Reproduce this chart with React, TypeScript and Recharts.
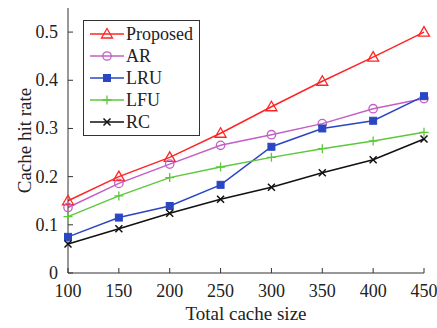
import React from "react";
import { LineChart, Line, XAxis, YAxis } from "recharts";

const cacheSizes = [100, 150, 200, 250, 300, 350, 400, 450];
const proposed = [0.15, 0.2, 0.24, 0.29, 0.345, 0.398, 0.448, 0.5];
const ar = [0.136, 0.186, 0.226, 0.265, 0.287, 0.31, 0.341, 0.362];
const lru = [0.075, 0.115, 0.139, 0.183, 0.262, 0.3, 0.316, 0.367];
const lfu = [0.117, 0.16, 0.198, 0.22, 0.24, 0.258, 0.274, 0.292];
const rc = [0.06, 0.092, 0.124, 0.153, 0.178, 0.208, 0.235, 0.278];
const yTicks = [0, 0.1, 0.2, 0.3, 0.4, 0.5];

const data = cacheSizes.map((s, i) => ({
  size: s,
  Proposed: proposed[i],
  AR: ar[i],
  LRU: lru[i],
  LFU: lfu[i],
  RC: rc[i],
}));

const FONT = "'Liberation Serif', 'Times New Roman', serif";
const AXIS = "#333";

const series = [
  { key: "Proposed", color: "#ff2525", shape: "triangle" },
  { key: "AR", color: "#c45fc4", shape: "circle" },
  { key: "LRU", color: "#2b46c2", shape: "square" },
  { key: "LFU", color: "#5cc83c", shape: "plus" },
  { key: "RC", color: "#111111", shape: "cross" },
];

function Marker({ cx, cy, shape, color }: any) {
  if (cx == null || cy == null) return null;
  switch (shape) {
    case "triangle":
      return <path d={`M${cx},${cy - 5.5} L${cx + 5.5},${cy + 4} L${cx - 5.5},${cy + 4} Z`} fill="none" stroke={color} strokeWidth={1.3} />;
    case "circle":
      return <circle cx={cx} cy={cy} r={4.2} fill="none" stroke={color} strokeWidth={1.3} />;
    case "square":
      return <rect x={cx - 3.5} y={cy - 3.5} width={7} height={7} fill={color} stroke={color} />;
    case "plus":
      return <path d={`M${cx - 4.5},${cy} H${cx + 4.5} M${cx},${cy - 4.5} V${cy + 4.5}`} stroke={color} strokeWidth={1.3} />;
    default:
      return <path d={`M${cx - 3.5},${cy - 3.5} L${cx + 3.5},${cy + 3.5} M${cx + 3.5},${cy - 3.5} L${cx - 3.5},${cy + 3.5}`} stroke={color} strokeWidth={1.5} />;
  }
}

const BottomTick = ({ x, y, payload }: any) => (
  <g>
    <line x1={x} x2={x} y1={y - 6} y2={y - 11} stroke={AXIS} />
    <text x={x} y={y + 18} textAnchor="middle" fontFamily={FONT} fontSize={18} fill="#222">{payload.value}</text>
  </g>
);
const LeftTick = ({ x, y, payload }: any) => (
  <g>
    <line x1={x + 6} x2={x + 11} y1={y} y2={y} stroke={AXIS} />
    <text x={x - 4} y={y + 6} textAnchor="end" fontFamily={FONT} fontSize={18} fill="#222">{payload.value}</text>
  </g>
);
const TopTick = ({ x, y }: any) => <line x1={x} x2={x} y1={y} y2={y + 5} stroke={AXIS} />;
const RightTick = ({ x, y }: any) => <line x1={x - 5} x2={x} y1={y} y2={y} stroke={AXIS} />;

const LegendBox = () => (
  <div style={{ position: "absolute", left: 83, top: 20, border: "1px solid #333", background: "#fff", padding: "2px 6px 2px 6px", fontFamily: FONT, fontSize: 18, color: "#222" }}>
    {series.map((s) => (
      <div key={s.key} style={{ display: "flex", alignItems: "center", height: 22 }}>
        <svg width={34} height={14} style={{ marginRight: 2 }}>
          <line x1={0} x2={34} y1={7} y2={7} stroke={s.color} strokeWidth={1.5} />
          <Marker cx={17} cy={7} shape={s.shape} color={s.color} />
        </svg>
        <span>{s.key}</span>
      </div>
    ))}
  </div>
);

export default function App() {
  return (
    <div style={{ position: "fixed", left: 0, top: 0, background: "#fff", width: 437, height: 328 }}>
      <LineChart width={437} height={328} data={data} margin={{ top: 8, right: 13, bottom: 15, left: 8 }} style={{ overflow: "visible" }}>
        <XAxis
          dataKey="size"
          type="number"
          domain={[100, 450]}
          ticks={cacheSizes}
          interval={0}
          tickLine={false}
          tickSize={0}
          tickMargin={6}
          height={40}
          stroke={AXIS}
          tick={<BottomTick />}
          label={{ value: "Total cache size", position: "insideBottom", offset: -7, style: { fontFamily: FONT, fontSize: 19, fill: "#222" } }}
        />
        <XAxis xAxisId="top" dataKey="size" type="number" orientation="top" domain={[100, 450]} ticks={cacheSizes} interval={0} tickLine={false} tickSize={0} tickMargin={0} height={0} stroke={AXIS} tick={<TopTick />} />
        <YAxis
          type="number"
          domain={[0, 0.55]}
          ticks={yTicks}
          interval={0}
          tickLine={false}
          tickSize={0}
          tickMargin={6}
          width={60}
          stroke={AXIS}
          tick={<LeftTick />}
          label={{ value: "Cache hit rate", angle: -90, position: "insideLeft", offset: 16, style: { textAnchor: "middle", fontFamily: FONT, fontSize: 19, fill: "#222" } }}
        />
        <YAxis yAxisId="right" type="number" orientation="right" domain={[0, 0.55]} ticks={yTicks} interval={0} tickLine={false} tickSize={0} tickMargin={0} width={0} stroke={AXIS} tick={<RightTick />} />
        {series.map((s) => (
          <Line
            key={s.key}
            dataKey={s.key}
            stroke={s.color}
            strokeWidth={1.5}
            isAnimationActive={false}
            dot={(p: any) => <Marker key={`${s.key}-${p.index}`} cx={p.cx} cy={p.cy} shape={s.shape} color={s.color} />}
            activeDot={false}
          />
        ))}
      </LineChart>
      <LegendBox />
    </div>
  );
}
